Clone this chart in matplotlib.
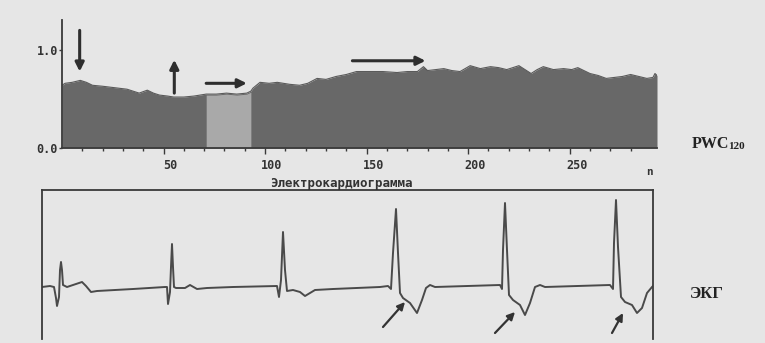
import matplotlib
matplotlib.use("Agg")
import matplotlib.pyplot as plt
import matplotlib.transforms as mtransforms

# PWC120 trend (top panel): beat number vs relative value
pwc_n = [0, 1.5, 5, 9, 12, 15, 20, 24, 28, 32, 35, 38, 42, 45, 48, 52, 55,
         60, 65, 71, 76, 81, 86, 91, 93, 94, 97.5, 102, 106, 112, 117, 121,
         125.6, 130, 135, 140, 145, 150, 158, 165, 170, 175, 178, 180, 184,
         188, 192, 196, 201, 206, 211, 215, 219, 222, 225, 228, 231, 234,
         237, 242, 247, 251, 254, 257, 260, 264, 268, 272, 276, 280, 284,
         288, 291, 292, 293]
pwc_val = [0.64, 0.66, 0.67, 0.69, 0.67, 0.64, 0.63, 0.62, 0.61, 0.60, 0.58,
           0.56, 0.59, 0.56, 0.54, 0.53, 0.52, 0.52, 0.53, 0.55, 0.55, 0.56,
           0.55, 0.56, 0.58, 0.61, 0.67, 0.66, 0.67, 0.65, 0.64, 0.66, 0.71,
           0.70, 0.73, 0.75, 0.78, 0.78, 0.78, 0.77, 0.78, 0.78, 0.83, 0.79,
           0.80, 0.81, 0.79, 0.78, 0.84, 0.81, 0.83, 0.82, 0.80, 0.82, 0.84,
           0.80, 0.76, 0.80, 0.83, 0.80, 0.81, 0.80, 0.82, 0.79, 0.76, 0.74,
           0.71, 0.72, 0.73, 0.75, 0.73, 0.71, 0.72, 0.76, 0.74]
band_start, band_end = 71, 93

# ECG trace (bottom panel): time in samples, amplitude in arbitrary units
ecg_t = [0, 8, 12, 14, 15, 17, 18, 19, 20, 21, 25, 31, 40, 44, 49, 55, 91,
         123, 125, 126, 128, 129, 130, 131, 132, 134, 143, 148, 155, 165,
         191, 235, 237, 239, 241, 243, 245, 251, 258, 263, 268, 273, 291,
         338, 346, 349, 351, 354, 356, 358, 361, 368, 375, 380, 384, 388,
         393, 458, 460, 461, 463, 465, 467, 471, 478, 483, 488, 493, 498,
         503, 568, 571, 572, 574, 576, 579, 583, 590, 595, 600, 605, 610, 611]
ecg_v = [0.0, 0.1, 0.0, -1.1, -1.9, -1.0, 1.7, 2.5, 1.7, 0.2, 0.0, 0.2, 0.5,
         0.1, -0.5, -0.4, -0.2, 0.0, 0.0, -1.7, -0.5, 2.0, 4.3, 2.0, 0.0,
         -0.1, -0.1, 0.2, -0.2, -0.1, 0.0, 0.1, -1.0, 0.7, 5.5, 1.7, -0.4,
         -0.3, -0.5, -0.9, -0.6, -0.3, -0.2, 0.0, 0.1, -0.2, 3.4, 7.8, 3.4,
         -0.6, -1.1, -1.6, -2.6, -1.3, -0.1, 0.2, 0.0, 0.2, -0.2, 3.7, 8.4,
         3.7, -0.8, -1.3, -1.8, -2.8, -1.6, 0.0, 0.2, 0.0, 0.2, -0.2, 4.4,
         8.7, 4.0, -1.0, -1.5, -1.8, -2.6, -2.1, -0.6, 0.0, 0.1]

# arrows: (x_tail, y_tail, x_head, y_head)
pwc_arrows = [(8.7, 1.20, 8.7, 0.78), (55.3, 0.56, 55.3, 0.90),
              (71, 0.66, 91, 0.66), (143, 0.89, 179, 0.89)]
ecg_arrows = [(341, -4.0, 363, -1.5), (453, -4.6, 473, -2.5),
              (570, -4.6, 581, -2.6)]

bg = "#e6e6e6"
ink = "#3a3a3a"
mono = "DejaVu Sans Mono"
serif = "Liberation Serif"

fig = plt.figure(figsize=(7.65, 3.43), dpi=100, facecolor=bg)

# ---- top panel -------------------------------------------------------
ax1 = fig.add_axes([62 / 765, 1 - 148 / 343, 595 / 765, 128 / 343])
ax1.set_facecolor(bg)
ax1.fill_between(pwc_n, pwc_val, 0, color="#686868", lw=0)
ax1.plot(pwc_n, pwc_val, color="#5a5a5a", lw=0.8)
band = [(n, v) for n, v in zip(pwc_n, pwc_val) if band_start <= n <= band_end]
ax1.fill_between([p[0] for p in band], [p[1] - 0.01 for p in band], 0,
                 color="#a9a9a9", lw=0)

for x0, y0, x1, y1 in pwc_arrows:
    ax1.annotate("", xy=(x1, y1), xytext=(x0, y0),
                 arrowprops=dict(arrowstyle="-|>", lw=2.2, color="#2e2e2e",
                                 mutation_scale=13, shrinkA=0, shrinkB=0))

ax1.set_xlim(0, 293)
ax1.set_ylim(0, 1.306)
for s in ("top", "right"):
    ax1.spines[s].set_visible(False)
for s in ("left", "bottom"):
    ax1.spines[s].set_color(ink)
    ax1.spines[s].set_linewidth(1.3)
ax1.set_xticks([50, 100, 150, 200, 250])
ax1.set_xticks(range(10, 290, 10), minor=True)
ax1.set_yticks([0.0, 1.0])
ax1.set_yticklabels(["0.0", "1.0"])
ax1.tick_params(axis="x", which="major", length=4, width=1, color=ink, pad=4)
ax1.tick_params(axis="x", which="minor", length=2, width=1, color=ink)
ax1.tick_params(axis="y", length=2, width=1, color=ink, pad=1)
for lab in ax1.get_xticklabels() + ax1.get_yticklabels():
    lab.set_fontfamily(mono)
    lab.set_fontweight("bold")
    lab.set_fontsize(8.5)
    lab.set_color("#333333")
shift = mtransforms.ScaledTranslation(5 / 72, 0, fig.dpi_scale_trans)
for lab in ax1.get_xticklabels():
    lab.set_transform(lab.get_transform() + shift)
ax1.text(0.988, -0.19, "n", transform=ax1.transAxes, family=mono,
         fontweight="bold", fontsize=8, color="#333333", ha="center",
         va="center")

fig.text(692 / 765, 1 - 148 / 343, "PWC", family=serif, fontweight="bold",
         fontsize=11.5, color="#222222", va="baseline")
fig.text(728 / 765, 1 - 149 / 343, "120", family=serif, fontweight="bold",
         fontsize=8, color="#222222", va="baseline")

# ---- bottom panel (ECG) ----------------------------------------------
ax2 = fig.add_axes([42 / 765, 4 / 343, 611 / 765, 149 / 343])
ax2.set_facecolor(bg)
ax2.plot(ecg_t, ecg_v, color="#4a4a4a", lw=1.4)
for x0, y0, x1, y1 in ecg_arrows:
    ax2.annotate("", xy=(x1, y1), xytext=(x0, y0),
                 arrowprops=dict(arrowstyle="-|>", lw=1.6, color="#333333",
                                 mutation_scale=11, shrinkA=0, shrinkB=0))
ax2.set_xlim(0, 611)
ax2.set_ylim(-5.2, 9.7)
ax2.spines["bottom"].set_visible(False)
for s in ("left", "top", "right"):
    ax2.spines[s].set_color(ink)
    ax2.spines[s].set_linewidth(1.3)
ax2.set_xticks([])
ax2.set_yticks([])
ax2.set_title("Электрокардиограмма", family=mono, fontweight="bold",
              fontsize=9, color="#333333", pad=2, x=0.49)

fig.text(690 / 765, 1 - 298 / 343, "ЭКГ", family=serif, fontweight="bold",
         fontsize=12, color="#222222", va="baseline")

fig.savefig("out.png", dpi=100, facecolor=bg)
